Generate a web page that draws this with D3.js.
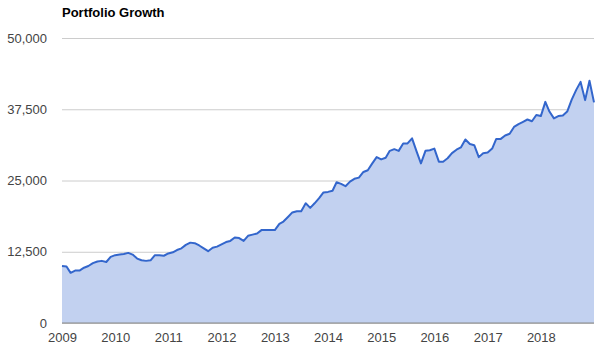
<!DOCTYPE html>
<html>
<head>
<meta charset="utf-8">
<script src="https://cdn.jsdelivr.net/npm/d3@7"></script>
<style>
  body { margin: 0; background: #fff; }
  text { font-family: Arial, "Liberation Sans", sans-serif; }
</style>
</head>
<body>
<div id="chart"></div>
<script>
// monthly values, Jan 2009 .. Jan 2019
let values = [
  10000, 9900, 8800, 9200, 9200, 9700, 10000, 10500, 10800, 10900, 10700, 11600,
  11900, 12000, 12100, 12300, 12000, 11300, 11000, 10900, 11000, 11900, 11900, 11800,
  12200, 12400, 12800, 13100, 13700, 14100, 14000, 13600, 13100, 12600, 13200, 13400,
  13800, 14200, 14400, 15000, 14900, 14400, 15300, 15500, 15700, 16300, 16300, 16300,
  16300, 17400, 17800, 18600, 19400, 19600, 19600, 21000, 20200, 21000, 21900, 22900,
  23000, 23200, 24700, 24400, 24000, 24800, 25300, 25500, 26500, 26800, 28000, 29100,
  28700, 29000, 30200, 30500, 30200, 31500, 31500, 32400, 30100, 28000, 30200, 30300,
  30600, 28300, 28300, 28900, 29800, 30400, 30800, 32200, 31400, 31200, 29100, 29800,
  29900, 30600, 32300, 32300, 32900, 33200, 34400, 34900, 35300, 35700, 35400, 36500,
  36300, 38800, 37100, 35900, 36300, 36400, 37100, 39200, 40900, 42300, 39100, 42500,
  38700
];
let startYear = 2009;
let yearTicks = [2009, 2010, 2011, 2012, 2013, 2014, 2015, 2016, 2017, 2018];
let valueTicks = [0, 12500, 25000, 37500, 50000];
let title = "Portfolio Growth";

let width = 600, height = 354;
let margin = {top: 38, right: 6, bottom: 31, left: 62};

let data = values.map(function(v, i) {
    return {date: new Date(startYear, i, 1), value: v};
});

let svg = d3.select("#chart")
    .append("svg")
    .attr("width", width)
    .attr("height", height);

let x = d3.scaleTime()
    .domain(d3.extent(data, function(d) { return d.date; }))
    .range([margin.left, width - margin.right]);

let y = d3.scaleLinear()
    .domain([0, 50000])
    .range([height - margin.bottom, margin.top]);

// gridlines + y labels
let yAxis = svg.append("g")
    .attr("transform", `translate(${margin.left}, 0)`)
    .call(d3.axisLeft(y)
        .tickValues(valueTicks)
        .tickSize(-(width - margin.left - margin.right))
        .tickPadding(15)
        .tickFormat(d3.format(",")));
yAxis.select(".domain").remove();
yAxis.selectAll("line").attr("stroke", "#cccccc");
yAxis.selectAll("text")
    .style("font-size", "13px")
    .attr("fill", "#444");

let area = d3.area()
    .x(function(d) { return x(d.date); })
    .y0(y(0))
    .y1(function(d) { return y(d.value); });

let line = d3.line()
    .x(function(d) { return x(d.date); })
    .y(function(d) { return y(d.value); });

svg.append("path")
    .datum(data)
    .attr("d", area)
    .attr("fill", "#c2d1f0");

svg.append("path")
    .datum(data)
    .attr("d", line)
    .attr("fill", "none")
    .attr("stroke", "#3366cc")
    .attr("stroke-width", 2)
    .attr("stroke-linejoin", "round");

// baseline
svg.append("line")
    .attr("x1", margin.left)
    .attr("x2", width - margin.right)
    .attr("y1", y(0))
    .attr("y2", y(0))
    .attr("stroke", "#888")
    .attr("stroke-width", 1);

// x labels
let xAxis = svg.append("g")
    .attr("transform", `translate(0, ${height - margin.bottom})`)
    .call(d3.axisBottom(x)
        .tickValues(yearTicks.map(function(yr) { return new Date(yr, 0, 1); }))
        .tickSize(0)
        .tickPadding(10)
        .tickFormat(d3.timeFormat("%Y")));
xAxis.select(".domain").remove();
xAxis.selectAll("text")
    .style("font-size", "13px")
    .attr("fill", "#444");

svg.append("text")
    .attr("x", margin.left)
    .attr("y", 17)
    .style("font-size", "13px")
    .style("font-weight", 700)
    .attr("fill", "#000")
    .text(title);
</script>
</body>
</html>
